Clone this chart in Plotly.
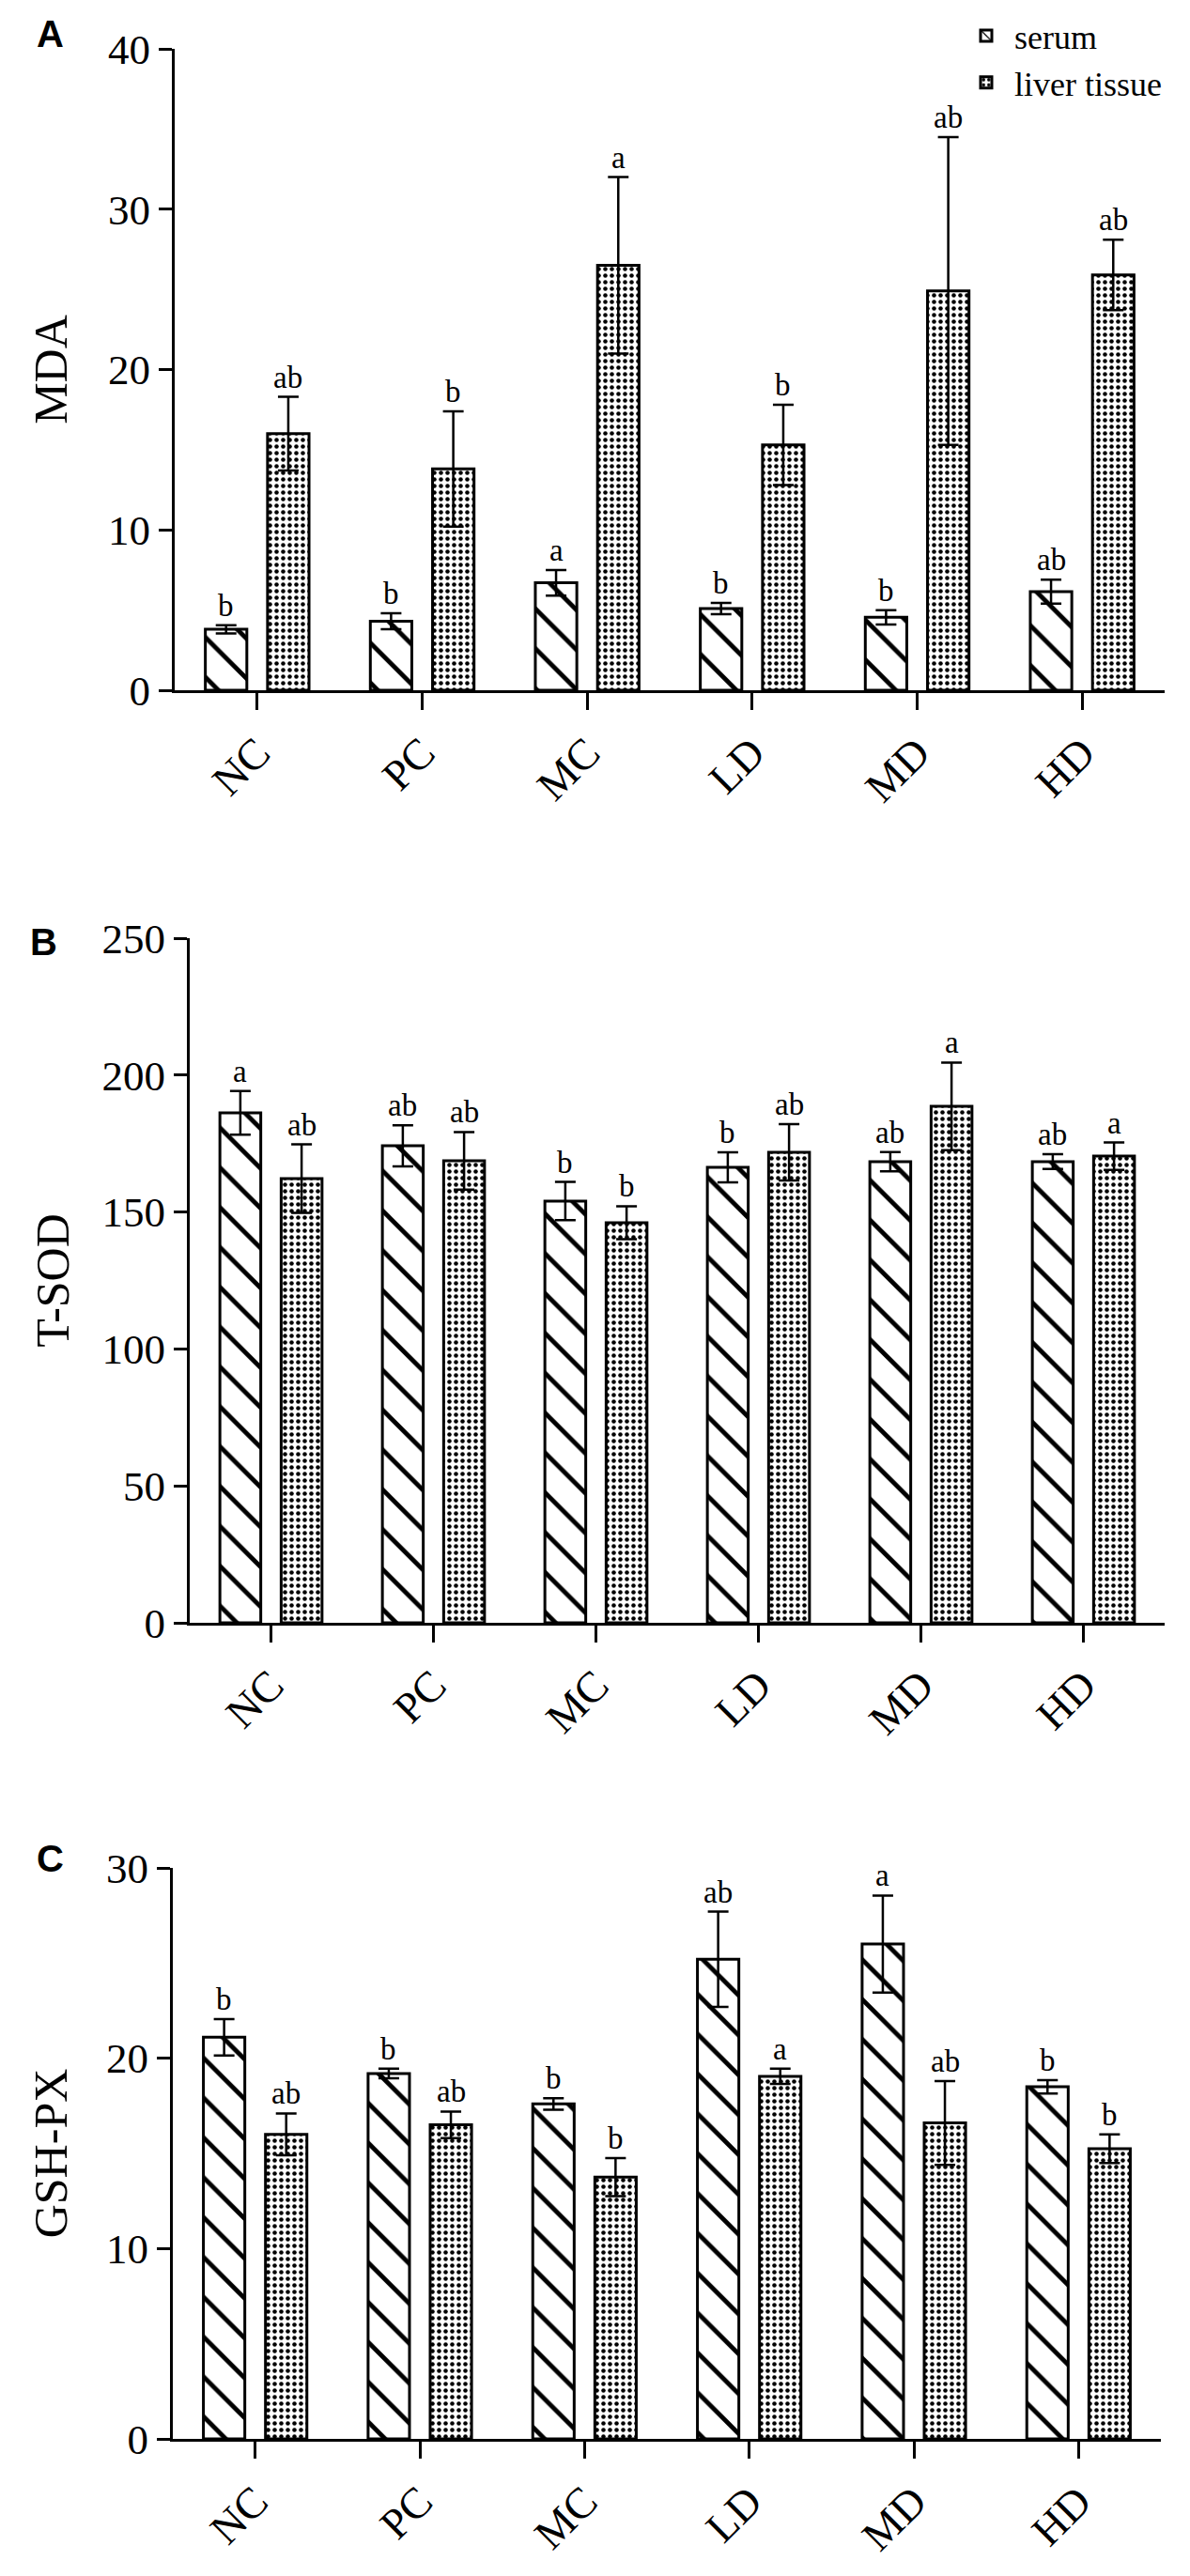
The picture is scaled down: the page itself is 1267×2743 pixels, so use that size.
import plotly.graph_objects as go

groups = ["NC", "PC", "MC", "LD", "MD", "HD"]

mda_serum = [3.8, 4.3, 6.7, 5.1, 4.55, 6.15]
mda_serum_err = [0.25, 0.5, 0.8, 0.35, 0.45, 0.75]
mda_liver = [16.0, 13.8, 26.5, 15.3, 24.9, 25.9]
mda_liver_err = [2.3, 3.6, 5.5, 2.5, 9.6, 2.2]
mda_serum_sig = ["b", "b", "a", "b", "b", "ab"]
mda_liver_sig = ["ab", "b", "a", "b", "ab", "ab"]

sod_serum = [186.2, 174.2, 154.0, 166.3, 168.4, 168.4]
sod_serum_err = [8.0, 7.5, 7.0, 5.5, 3.5, 2.7]
sod_liver = [162.2, 168.7, 146.1, 171.8, 188.6, 170.4]
sod_liver_err = [12.5, 10.5, 6.0, 10.3, 16.0, 5.0]
sod_serum_sig = ["a", "ab", "b", "b", "ab", "ab"]
sod_liver_sig = ["ab", "ab", "b", "ab", "a", "a"]

gsh_serum = [21.1, 19.2, 17.6, 25.2, 26.0, 18.5]
gsh_serum_err = [0.95, 0.25, 0.3, 2.5, 2.55, 0.35]
gsh_liver = [16.0, 16.5, 13.75, 19.05, 16.6, 15.25]
gsh_liver_err = [1.1, 0.7, 1.0, 0.4, 2.2, 0.75]
gsh_serum_sig = ["b", "b", "b", "ab", "a", "b"]
gsh_liver_sig = ["ab", "ab", "b", "a", "ab", "b"]

panels = [
    dict(letter="A", title="MDA", yrange=[0, 40], dtick=10,
         serum=mda_serum, serum_err=mda_serum_err, liver=mda_liver, liver_err=mda_liver_err,
         serum_sig=mda_serum_sig, liver_sig=mda_liver_sig,
         xpx=(186, 1240), ypx=(52, 735), letter_pos=(37, 36), standoff=28),
    dict(letter="B", title="T-SOD", yrange=[0, 250], dtick=50,
         serum=sod_serum, serum_err=sod_serum_err, liver=sod_liver, liver_err=sod_liver_err,
         serum_sig=sod_serum_sig, liver_sig=sod_liver_sig,
         xpx=(202, 1240), ypx=(999, 1728), letter_pos=(30, 1003), standoff=20),
    dict(letter="C", title="GSH-PX", yrange=[0, 30], dtick=10,
         serum=gsh_serum, serum_err=gsh_serum_err, liver=gsh_liver, liver_err=gsh_liver_err,
         serum_sig=gsh_serum_sig, liver_sig=gsh_liver_sig,
         xpx=(184, 1236), ypx=(1989, 2597), letter_pos=(37, 1979), standoff=26),
]

OFF = 8
W, H = 1267 - 2 * OFF, 2743 - 2 * OFF


def fx(px):
    return (px - OFF) / W


def fy(py):
    return 1 - (py - OFF) / H


SERIF = "Liberation Serif, Times New Roman, serif"
BARGAP = 0.246
GROUPGAP = 0.333
shift = (1 - BARGAP) / 4

fig = go.Figure()
annotations = []
layout_axes = {}

for k, p in enumerate(panels):
    n = "" if k == 0 else str(k + 1)
    xref, yref = "x" + n, "y" + n
    fig.add_trace(go.Bar(
        x=groups, y=p["serum"], name="serum", xaxis=xref, yaxis=yref,
        showlegend=(k == 0), legendgroup="serum",
        marker=dict(color="white", line=dict(color="black", width=3),
                    pattern=dict(shape="\\", fgcolor="black", fgopacity=1, bgcolor="white",
                                 size=30, solidity=0.16)),
        error_y=dict(type="data", array=p["serum_err"], visible=True, color="black", thickness=2.5, width=11),
    ))
    fig.add_trace(go.Bar(
        x=groups, y=p["liver"], name="liver tissue", xaxis=xref, yaxis=yref,
        showlegend=(k == 0), legendgroup="liver",
        marker=dict(color="white", line=dict(color="black", width=3),
                    pattern=dict(shape=".", fgcolor="black", fgopacity=1, bgcolor="white",
                                 size=7, solidity=0.33)),
        error_y=dict(type="data", array=p["liver_err"], visible=True, color="black", thickness=2.5, width=11),
    ))
    for i in range(len(groups)):
        for val, err, sig, sgn in ((p["serum"][i], p["serum_err"][i], p["serum_sig"][i], -1),
                                   (p["liver"][i], p["liver_err"][i], p["liver_sig"][i], 1)):
            annotations.append(dict(
                x=i + sgn * shift, y=val + err, xref=xref, yref=yref, text=sig,
                showarrow=False, yanchor="bottom", xanchor="center", yshift=1,
                font=dict(family=SERIF, size=33, color="black")))
    annotations.append(dict(
        x=fx(p["letter_pos"][0]), y=fy(p["letter_pos"][1]), xref="paper", yref="paper",
        text="<b>%s</b>" % p["letter"], showarrow=False, xanchor="left", yanchor="middle",
        font=dict(family="Liberation Sans, Arial, sans-serif", size=40, color="black")))

    layout_axes["xaxis" + n] = dict(
        domain=[fx(p["xpx"][0]), fx(p["xpx"][1])], anchor=yref, type="category",
        range=[-0.5, 5.5], showline=True, linecolor="black", linewidth=3,
        ticks="outside", ticklen=18, tickwidth=2.5, tickcolor="black", tickangle=-45,
        tickfont=dict(family=SERIF, size=46, color="black"), showgrid=False, zeroline=False,
        automargin=False)
    layout_axes["yaxis" + n] = dict(
        domain=[fy(p["ypx"][1]), fy(p["ypx"][0])], anchor=xref, range=p["yrange"], dtick=p["dtick"],
        showline=True, linecolor="black", linewidth=3, ticks="outside", ticklen=14, tickwidth=2.5,
        tickcolor="black", tickfont=dict(family=SERIF, size=45, color="black"),
        showgrid=False, zeroline=False, automargin=False,
        title=dict(text=p["title"], standoff=p["standoff"], font=dict(family=SERIF, size=50, color="black")))

fig.update_layout(
    width=W, height=H, margin=dict(l=0, r=0, t=0, b=0, autoexpand=False),
    paper_bgcolor="white", plot_bgcolor="white",
    barmode="group", bargap=BARGAP, bargroupgap=GROUPGAP,
    annotations=annotations,
    legend=dict(x=fx(1020), y=fy(8), xanchor="left", yanchor="top",
                font=dict(family=SERIF, size=36, color="black"),
                bgcolor="rgba(0,0,0,0)", itemwidth=50, tracegroupgap=0),
    showlegend=True,
    **layout_axes,
)

fig.write_html("out.html")
